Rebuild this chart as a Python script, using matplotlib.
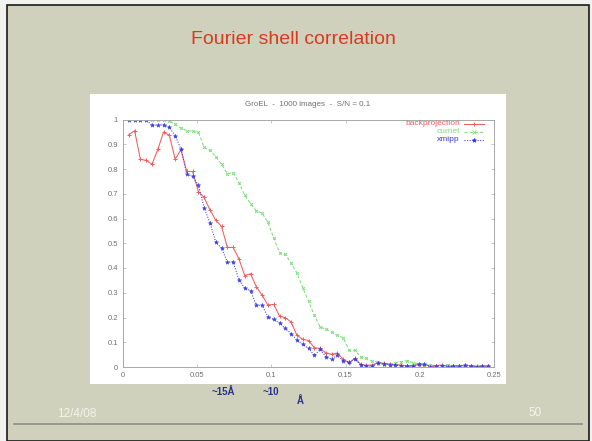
import numpy as np
import matplotlib
matplotlib.use('Agg')
import matplotlib.pyplot as plt
import matplotlib.patches as mpatches
from matplotlib.lines import Line2D

W, H = 592, 441

# spatial frequency grid (1/A), one sample per shell
freq = np.arange(1, 64) / 256.0

backprojection = [0.939, 0.955, 0.839, 0.835, 0.819, 0.879, 0.949, 0.936, 0.839, 0.879,
                  0.79, 0.79, 0.709, 0.685, 0.635, 0.593, 0.568, 0.483, 0.483, 0.437,
                  0.369, 0.377, 0.324, 0.29, 0.25, 0.253, 0.206, 0.199, 0.182, 0.128,
                  0.112, 0.107, 0.078, 0.075, 0.057, 0.051, 0.057, 0.031, 0.017, 0.035,
                  0.011, 0.007, 0.008, 0.018, 0.015, 0.012, 0.010, 0.008, 0.004, 0.006,
                  0.010, 0.010, 0.003, 0.006, 0.008, 0.004, 0.004, 0.006, 0.006, 0.005,
                  0.003, 0.004, 0.004]

curnet = [1.0, 1.0, 1.0, 1.0, 0.998, 0.998, 0.997, 0.995, 0.98, 0.965,
          0.955, 0.952, 0.948, 0.887, 0.875, 0.85, 0.819, 0.781, 0.785, 0.745,
          0.694, 0.66, 0.631, 0.622, 0.584, 0.521, 0.462, 0.455, 0.42, 0.38,
          0.32, 0.266, 0.209, 0.163, 0.152, 0.141, 0.128, 0.118, 0.068, 0.068,
          0.041, 0.035, 0.024, 0.02, 0.007, 0.012, 0.015, 0.022, 0.025, 0.018,
          0.012, 0.010, 0.008, 0.006, 0.008, 0.010, 0.006, 0.004, 0.005, 0.006,
          0.004, 0.003, 0.005]

xmipp = [1.0, 1.0, 1.0, 0.998, 0.977, 0.977, 0.978, 0.968, 0.935, 0.88,
         0.779, 0.77, 0.735, 0.643, 0.583, 0.505, 0.48, 0.424, 0.424, 0.353,
         0.318, 0.309, 0.249, 0.249, 0.203, 0.192, 0.178, 0.156, 0.135, 0.109,
         0.091, 0.075, 0.047, 0.071, 0.041, 0.032, 0.047, 0.024, 0.02, 0.033,
         0.008, 0.004, 0.004, 0.016, 0.012, 0.010, 0.008, 0.005, 0.003, 0.004,
         0.011, 0.012, 0.002, 0.004, 0.006, 0.002, 0.003, 0.004, 0.007, 0.004,
         0.002, 0.003, 0.003]

xticks = [0, 0.05, 0.1, 0.15, 0.2, 0.25]
xticklabels = ['0', '0.05', '0.1', '0.15', '0.2', '0.25']
yticks = np.round(np.arange(0, 1.01, 0.1), 1)
yticklabels = ['0'] + ['%.1f' % v for v in yticks[1:-1]] + ['1']

plt.rcParams['font.family'] = ['Liberation Sans', 'DejaVu Sans']

def fx(x):
    return x / W

def fy(y):
    return 1 - y / H

fig = plt.figure(figsize=(W / 100, H / 100), dpi=100)
fig.patch.set_facecolor('#f2f2ee')

# slide background and frame (kept behind the axes)
fig.add_artist(mpatches.Rectangle((fx(7), 0), fx(589) - fx(7), fy(5), transform=fig.transFigure,
                                  facecolor='#cfd1bc', edgecolor='#1a1a1a', lw=1.2, zorder=-10))
fig.add_artist(Line2D([fx(14), fx(582)], [fy(424), fy(424)], transform=fig.transFigure,
                      color='#8e8e86', lw=1.2, zorder=-9))
# white picture area
fig.add_artist(mpatches.Rectangle((fx(90), fy(384)), fx(506) - fx(90), fy(94) - fy(384),
                                  transform=fig.transFigure, facecolor='white', edgecolor='none',
                                  zorder=-9))

fig.text(fx(293), fy(40), 'Fourier shell correlation', color='#d93a1e', fontsize=14,
         ha='center', va='center')
fig.text(fx(57), fy(414), '12/4/08', color='#f4f4ec', fontsize=8.5, ha='left', va='center')
fig.text(fx(535), fy(413), '50', color='#f4f4ec', fontsize=8.5, ha='center', va='center')
fig.text(fx(223), fy(392), '~15Å', color='#28308a', fontsize=7, fontweight='bold',
         ha='center', va='center')
fig.text(fx(271), fy(392), '~10', color='#28308a', fontsize=7, fontweight='bold',
         ha='center', va='center')
fig.text(fx(300), fy(401), 'Å', color='#28308a', fontsize=7, fontweight='bold',
         ha='center', va='center')
fig.text(fx(308), fy(105), 'GroEL  -  1000 images  -  S/N = 0.1', color='#707070',
         fontsize=5.8, ha='center', va='center')

ax = fig.add_axes([fx(123), fy(367), fx(494) - fx(123), fy(119.5) - fy(367)])
ax.set_facecolor('none')

red, green, blue = '#f25c5c', '#7ddf7d', '#3a3ae6'
ax.plot(freq, backprojection, color=red, lw=0.75, marker='+', ms=3, mew=0.7)
ax.plot(freq, curnet, color=green, lw=0.75, ls=(0, (3, 2)), marker='x', ms=2, mew=0.7)
ax.plot(freq, xmipp, color=blue, lw=0.75, ls=(0, (1, 1.5)), marker='*', ms=3.2, mew=0.3)

ax.set_xlim(0, 0.25)
ax.set_ylim(0, 1)
ax.set_xticks(xticks)
ax.set_xticklabels(xticklabels)
ax.set_yticks(yticks)
ax.set_yticklabels(yticklabels)
ax.tick_params(direction='in', length=2.5, width=0.5, colors='#b0b0b0', labelcolor='#707070',
               labelsize=5.5, top=True, right=True, pad=3.5)
for s in ax.spines.values():
    s.set_color('#a8a8a8')
    s.set_linewidth(0.7)

# legend drawn as in the gnuplot output: right aligned names, sample line on the right
names = ['backprojection', 'curnet', 'xmipp']
cols = [red, green, blue]
styles = ['-', (0, (3, 2)), (0, (1, 1.5))]
marks = ['+', 'x', '*']
for i in range(3):
    yy = 0.982 - i * 0.032
    ax.text(0.908, yy, names[i], color=cols[i], fontsize=6, ha='right', va='center',
            transform=ax.transAxes)
    ax.add_line(Line2D([0.918, 0.972], [yy, yy], color=cols[i], ls=styles[i], lw=0.75,
                       transform=ax.transAxes))
    ax.add_line(Line2D([0.945], [yy], color=cols[i], marker=marks[i], ms=3, mew=0.6,
                       transform=ax.transAxes))

fig.savefig('out.png', dpi=100, facecolor=fig.get_facecolor())
